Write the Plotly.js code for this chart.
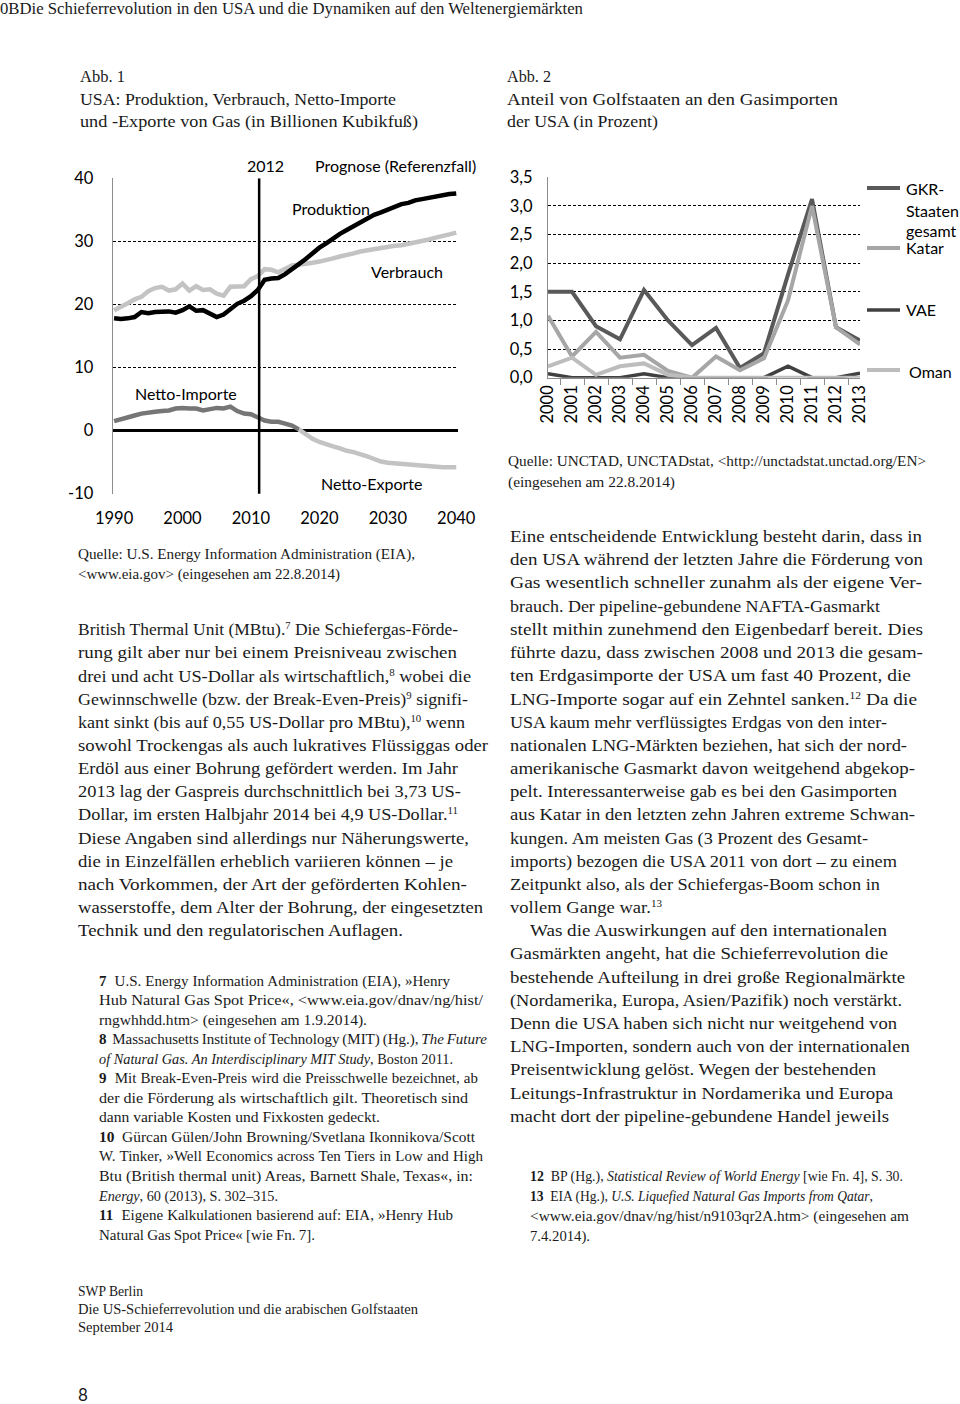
<!DOCTYPE html>
<html><head><meta charset="utf-8">
<script src="https://cdn.plot.ly/plotly-3.0.1.min.js"></script>
<style>
html,body{margin:0;padding:0;background:#fff;}
#page{position:relative;width:960px;height:1404px;overflow:hidden;background:#fff;}
#plot{position:absolute;left:0;top:0;width:960px;height:1404px;}
.ln{position:absolute;white-space:nowrap;font-family:"Liberation Serif",serif;color:#1a1a1a;line-height:1;transform-origin:0 50%;}
.ln sup{font-size:0.6em;vertical-align:0;position:relative;top:-0.6em;line-height:0;}
.ln b{font-weight:bold;}
</style></head><body>
<div id="page"><div id="plot"></div><div id="txt"></div></div>
<script>
// ---------- Abb. 1 data (Billionen Kubikfuß) ----------
const years = [1990,1991,1992,1993,1994,1995,1996,1997,1998,1999,2000,2001,2002,2003,2004,2005,2006,2007,2008,2009,2010,2011,2012,2013,2014,2015,2016,2017,2018,2019,2020,2021,2022,2023,2024,2025,2026,2027,2028,2029,2030,2031,2032,2033,2034,2035,2036,2037,2038,2039,2040];
const produktion = [17.8,17.7,17.8,18.0,18.8,18.6,18.8,18.9,18.9,18.7,19.1,19.7,19.0,19.1,18.6,18.0,18.4,19.2,20.1,20.6,21.3,22.3,23.9,24.1,24.2,24.8,25.7,26.4,27.2,28.2,29.0,29.7,30.5,31.2,31.8,32.4,33.1,33.7,34.2,34.6,35.0,35.4,35.9,36.1,36.5,36.7,36.9,37.1,37.4,37.5,37.6];
const verbrauch = [19.1,19.6,20.2,20.8,21.2,22.1,22.6,22.8,22.2,22.4,23.3,22.2,22.9,22.3,22.4,21.7,21.4,22.8,22.9,22.9,24.0,24.5,25.6,25.5,25.1,25.6,26.2,26.3,26.4,26.6,26.8,27.0,27.3,27.6,27.8,28.1,28.4,28.6,28.8,29.0,29.1,29.3,29.4,29.6,29.8,30.1,30.3,30.6,30.8,31.1,31.4];
const nettoImporte = [1.5,1.75,2.1,2.4,2.7,2.9,3.0,3.1,3.2,3.5,3.6,3.5,3.5,3.2,3.4,3.6,3.5,3.8,3.1,2.7,2.6,2.1,1.6,1.4,1.4,1.1,0.8,0.2,null,null,null,null,null,null,null,null,null,null,null,null,null,null,null,null,null,null,null,null,null,null,null];
const nettoExporte = [null,null,null,null,null,null,null,null,null,null,null,null,null,null,null,null,null,null,null,null,null,null,null,null,null,null,null,0.2,-0.6,-1.3,-1.8,-2.2,-2.5,-2.8,-3.2,-3.4,-3.7,-4.1,-4.5,-4.9,-5.1,-5.2,-5.3,-5.4,-5.5,-5.6,-5.7,-5.7,-5.8,-5.8,-5.8];
const xTicks1 = [1990,2000,2010,2020,2030,2040];
const yTicks1 = [-10,0,10,20,30,40];
const yTickText1 = ['-10','0','10','20','30','40'];
const prognoseStart = 2011.2;   // senkrechte Linie "2012"

// ---------- Abb. 2 data (Prozent) ----------
const jahre = ['2000','2001','2002','2003','2004','2005','2006','2007','2008','2009','2010','2011','2012','2013'];
const gkrGesamt = [1.5,1.5,0.9,0.67,1.53,1.0,0.57,0.87,0.17,0.43,1.8,3.12,0.88,0.65];
const katar = [1.08,0.37,0.8,0.35,0.4,0.12,0.0,0.37,0.13,0.34,1.35,3.0,0.88,0.58];
const vae = [0.07,0,0,0,0.07,0,0,0,0,0,0.2,0,0,0.08];
const oman = [0.2,0.35,0.05,0.2,0.25,0.05,0,0,0,0,0,0,0,0];
const yTicks2 = [0,0.5,1,1.5,2,2.5,3,3.5];

// ---------- geometry helpers ----------
const W = 960, H = 1404;
const fx = p => p / W, fy = p => 1 - p / H;
const chartFont = 'Lato, "Open Sans", sans-serif';
const grid = {gridcolor:'#000', gridwidth:1, griddash:'3px,2px'};

const traces = [
  {x:years, y:verbrauch, mode:'lines', line:{color:'#c3c3c3', width:4.5}, xaxis:'x', yaxis:'y', name:'Verbrauch'},
  {x:years, y:produktion, mode:'lines', line:{color:'#000', width:4.5}, xaxis:'x', yaxis:'y', name:'Produktion'},
  {x:years, y:nettoImporte, mode:'lines', line:{color:'#767676', width:4.5}, xaxis:'x', yaxis:'y', name:'Netto-Importe'},
  {x:years, y:nettoExporte, mode:'lines', line:{color:'#c3c3c3', width:4.5}, xaxis:'x', yaxis:'y', name:'Netto-Exporte'},
  {x:jahre, y:gkrGesamt, mode:'lines', line:{color:'#595959', width:4}, xaxis:'x2', yaxis:'y2', name:'GKR-Staaten gesamt'},
  {x:jahre, y:katar, mode:'lines', line:{color:'#a6a6a6', width:4}, xaxis:'x2', yaxis:'y2', name:'Katar'},
  {x:jahre, y:vae, mode:'lines', line:{color:'#404040', width:3.5}, xaxis:'x2', yaxis:'y2', name:'VAE'},
  {x:jahre, y:oman, mode:'lines', line:{color:'#bdbdbd', width:4}, xaxis:'x2', yaxis:'y2', name:'Oman'}
];

function ann(text, x, y, size, xanchor){
  return {text:text, x:fx(x), y:fy(y), xref:'paper', yref:'paper', showarrow:false,
          xanchor:xanchor||'center', yanchor:'middle', font:{family:chartFont, size:size||16, color:'#000'}};
}
function legLine(y, color, width){
  return {type:'line', xref:'paper', yref:'paper', x0:fx(867), x1:fx(900), y0:fy(y), y1:fy(y), line:{color:color, width:width}};
}

const layout = {
  width:W, height:H, margin:{l:0,r:0,t:0,b:0}, paper_bgcolor:'#fff', plot_bgcolor:'rgba(0,0,0,0)',
  showlegend:false, separators:', ', font:{family:chartFont, size:16, color:'#000'},
  xaxis:{domain:[fx(112.7), fx(458.3)], range:[1989.8, 2040.3], tickvals:xTicks1, showgrid:false, zeroline:false,
         showline:false, ticks:'outside', ticklen:9, tickcolor:'rgba(0,0,0,0)', tickfont:{size:16.5}, anchor:'y'},
  yaxis:Object.assign({domain:[fy(493.7), fy(178.3)], range:[-10,40], tickvals:yTicks1, ticktext:yTickText1, showgrid:true,
         zeroline:true, zerolinecolor:'#000', zerolinewidth:3, showline:true, linecolor:'#8c8c8c', linewidth:1,
         ticks:'outside', ticklen:15, tickcolor:'rgba(0,0,0,0)', tickfont:{size:16.5}, anchor:'x'}, grid),
  xaxis2:{domain:[fx(548), fx(860)], type:'category', anchor:'y2', tickson:'boundaries', ticks:'outside', ticklen:6,
          tickcolor:'#8c8c8c', showline:true, linecolor:'#8c8c8c', linewidth:1, tickangle:-90, showgrid:false,
          tickfont:{size:16.5}},
  yaxis2:Object.assign({domain:[fy(377.7), fy(177.3)], range:[0,3.5], tickvals:yTicks2, tickformat:'.1f', showgrid:true,
          zeroline:true, zerolinecolor:'#8c8c8c', zerolinewidth:1, showline:true, linecolor:'#8c8c8c', linewidth:1,
          ticks:'outside', ticklen:11, tickcolor:'rgba(0,0,0,0)', tickfont:{size:16.5}, anchor:'x2'}, grid),
  shapes:[
    {type:'line', xref:'x', yref:'y', x0:prognoseStart, x1:prognoseStart, y0:-10.2, y1:40, line:{color:'#000', width:2.5}},
    legLine(188, '#595959', 4), legLine(248, '#a6a6a6', 4), legLine(310, '#404040', 3.5), legLine(370, '#bdbdbd', 4)
  ],
  annotations:[
    ann('2012', 265, 165), ann('Prognose (Referenzfall)', 395, 165),
    ann('Produktion', 331, 208), ann('Verbrauch', 407, 271),
    ann('Netto-Importe', 186, 393), ann('Netto-Exporte', 371, 483),
    ann('GKR-', 904, 189, 16, 'left'), ann('Staaten', 904, 210, 16, 'left'), ann('gesamt', 904, 231, 16, 'left'),
    ann('Katar', 904, 248, 16, 'left'), ann('VAE', 904, 310, 16, 'left'), ann('Oman', 907, 371, 16, 'left')
  ]
};

Plotly.newPlot('plot', traces, layout, {staticPlot:true, displayModeBar:false});

// ---------- page text: [left x, centre y, right end x, font size, html, condensed?] ----------
const lines = [
  [0, 9, 583, 16, '0BDie Schieferrevolution in den USA und die Dynamiken auf den Weltenergiemärkten', 1],
  [80, 77, 125, 17.5, 'Abb. 1', 1],
  [80, 100, 396, 17.5, 'USA: Produktion, Verbrauch, Netto-Importe', 1],
  [80, 122, 418, 17.5, 'und -Exporte von Gas (in Billionen Kubikfuß)', 1],
  [507, 77, 551, 17.5, 'Abb. 2', 1],
  [507, 100, 838, 17.5, 'Anteil von Golfstaaten an den Gasimporten', 1],
  [507, 122, 658, 17.5, 'der USA (in Prozent)', 1],
  [78, 554, 415, 14.5, 'Quelle: U.S. Energy Information Administration (EIA),'],
  [78, 574, 340, 14.5, '&lt;www.eia.gov&gt; (eingesehen am 22.8.2014)'],
  [508, 461, 926, 14.5, 'Quelle: UNCTAD, UNCTADstat, &lt;http://unctadstat.unctad.org/EN&gt;'],
  [508, 482, 675, 14.5, '(eingesehen am 22.8.2014)'],
  // left body
  [78, 630, 458, 16.5, 'British Thermal Unit (MBtu).<sup>7</sup> Die Schiefergas-Förde-'],
  [78, 653, 457, 16.5, 'rung gilt aber nur bei einem Preisniveau zwischen'],
  [78, 677, 471, 16.5, 'drei und acht US-Dollar als wirtschaftlich,<sup>8</sup> wobei die'],
  [78, 700, 468, 16.5, 'Gewinnschwelle (bzw. der Break-Even-Preis)<sup>9</sup> signifi-'],
  [78, 723, 465, 16.5, 'kant sinkt (bis auf 0,55 US-Dollar pro MBtu),<sup>10</sup> wenn'],
  [78, 746, 488, 16.5, 'sowohl Trockengas als auch lukratives Flüssiggas oder'],
  [78, 769, 458, 16.5, 'Erdöl aus einer Bohrung gefördert werden. Im Jahr'],
  [78, 792, 461, 16.5, '2013 lag der Gaspreis durchschnittlich bei 3,73 US-'],
  [78, 815, 458, 16.5, 'Dollar, im ersten Halbjahr 2014 bei 4,9 US-Dollar.<sup>11</sup>'],
  [78, 839, 469, 16.5, 'Diese Angaben sind allerdings nur Näherungswerte,'],
  [78, 862, 453, 16.5, 'die in Einzelfällen erheblich variieren können – je'],
  [78, 885, 467, 16.5, 'nach Vorkommen, der Art der geförderten Kohlen-'],
  [78, 908, 483, 16.5, 'wasserstoffe, dem Alter der Bohrung, der eingesetzten'],
  [78, 931, 403, 16.5, 'Technik und den regulatorischen Auflagen.'],
  // left footnotes
  [99, 981, 450, 15, '<b>7</b>&nbsp; U.S. Energy Information Administration (EIA), »Henry'],
  [99, 1000, 483, 15, 'Hub Natural Gas Spot Price«, &lt;www.eia.gov/dnav/ng/hist/'],
  [99, 1020, 367, 15, 'rngwhhdd.htm&gt; (eingesehen am 1.9.2014).'],
  [99, 1039, 487, 15, '<b>8</b>&nbsp; Massachusetts Institute of Technology (MIT) (Hg.), <i>The Future</i>'],
  [99, 1059, 453, 15, '<i>of Natural Gas. An Interdisciplinary MIT Study</i>, Boston 2011.'],
  [99, 1078, 478, 15, '<b>9</b>&nbsp; Mit Break-Even-Preis wird die Preisschwelle bezeichnet, ab'],
  [99, 1098, 468, 15, 'der die Förderung als wirtschaftlich gilt. Theoretisch sind'],
  [99, 1117, 380, 15, 'dann variable Kosten und Fixkosten gedeckt.'],
  [99, 1137, 475, 15, '<b>10</b>&nbsp; Gürcan Gülen/John Browning/Svetlana Ikonnikova/Scott'],
  [99, 1156, 483, 15, 'W. Tinker, »Well Economics across Ten Tiers in Low and High'],
  [99, 1176, 473, 15, 'Btu (British thermal unit) Areas, Barnett Shale, Texas«, in:'],
  [99, 1196, 278, 15, '<i>Energy</i>, 60 (2013), S. 302–315.'],
  [99, 1215, 453, 15, '<b>11</b>&nbsp; Eigene Kalkulationen basierend auf: EIA, »Henry Hub'],
  [99, 1235, 315, 15, 'Natural Gas Spot Price« [wie Fn. 7].'],
  // right body
  [510, 537, 922, 16.5, 'Eine entscheidende Entwicklung besteht darin, dass in'],
  [510, 560, 923, 16.5, 'den USA während der letzten Jahre die Förderung von'],
  [510, 583, 922, 16.5, 'Gas wesentlich schneller zunahm als der eigene Ver-'],
  [510, 607, 880, 16.5, 'brauch. Der pipeline-gebundene NAFTA-Gasmarkt'],
  [510, 630, 923, 16.5, 'stellt mithin zunehmend den Eigenbedarf bereit. Dies'],
  [510, 653, 923, 16.5, 'führte dazu, dass zwischen 2008 und 2013 die gesam-'],
  [510, 676, 911, 16.5, 'ten Erdgasimporte der USA um fast 40 Prozent, die'],
  [510, 700, 917, 16.5, 'LNG-Importe sogar auf ein Zehntel sanken.<sup>12</sup> Da die'],
  [510, 723, 887, 16.5, 'USA kaum mehr verflüssigtes Erdgas von den inter-'],
  [510, 746, 907, 16.5, 'nationalen LNG-Märkten beziehen, hat sich der nord-'],
  [510, 769, 915, 16.5, 'amerikanische Gasmarkt davon weitgehend abgekop-'],
  [510, 792, 897, 16.5, 'pelt. Interessanterweise gab es bei den Gasimporten'],
  [510, 815, 915, 16.5, 'aus Katar in den letzten zehn Jahren extreme Schwan-'],
  [510, 839, 868, 16.5, 'kungen. Am meisten Gas (3 Prozent des Gesamt-'],
  [510, 862, 897, 16.5, 'imports) bezogen die USA 2011 von dort – zu einem'],
  [510, 885, 880, 16.5, 'Zeitpunkt also, als der Schiefergas-Boom schon in'],
  [510, 908, 662, 16.5, 'vollem Gange war.<sup>13</sup>'],
  [530, 931, 887, 16.5, 'Was die Auswirkungen auf den internationalen'],
  [510, 954, 888, 16.5, 'Gasmärkten angeht, hat die Schieferrevolution die'],
  [510, 978, 905, 16.5, 'bestehende Aufteilung in drei große Regionalmärkte'],
  [510, 1001, 902, 16.5, '(Nordamerika, Europa, Asien/Pazifik) noch verstärkt.'],
  [510, 1024, 897, 16.5, 'Denn die USA haben sich nicht nur weitgehend von'],
  [510, 1047, 910, 16.5, 'LNG-Importen, sondern auch von der internationalen'],
  [510, 1070, 876, 16.5, 'Preisentwicklung gelöst. Wegen der bestehenden'],
  [510, 1094, 893, 16.5, 'Leitungs-Infrastruktur in Nordamerika und Europa'],
  [510, 1117, 889, 16.5, 'macht dort der pipeline-gebundene Handel jeweils'],
  // right footnotes
  [530, 1176, 903, 15, '<b>12</b>&nbsp; BP (Hg.), <i>Statistical Review of World Energy</i> [wie Fn. 4], S. 30.'],
  [530, 1196, 873, 15, '<b>13</b>&nbsp; EIA (Hg.), <i>U.S. Liquefied Natural Gas Imports from Qatar</i>,'],
  [530, 1216, 909, 15, '&lt;www.eia.gov/dnav/ng/hist/n9103qr2A.htm&gt; (eingesehen am'],
  [530, 1236, 590, 15, '7.4.2014).'],
  // footer
  [78, 1291, 143, 15, 'SWP Berlin'],
  [78, 1309, 418, 15, 'Die US-Schieferrevolution und die arabischen Golfstaaten'],
  [78, 1327, 173, 15, 'September 2014']
];

const txt = document.getElementById('txt');
lines.forEach(l => {
  const d = document.createElement('div');
  d.className = 'ln';
  d.style.left = l[0] + 'px';
  d.style.top = (l[1] - l[3] * 0.5) + 'px';
  d.style.fontSize = l[3] + 'px';
  d.dataset.w = l[2] - l[0];
  if (l[5]) d.dataset.c = '1';
  d.innerHTML = l[4];
  txt.appendChild(d);
});
const pg = document.createElement('div');
pg.className = 'ln';
pg.style.cssText = 'left:78px;top:1386px;font-family:Lato,sans-serif;font-size:17px;';
pg.textContent = '8';
txt.appendChild(pg);

function fitLines(){
  document.querySelectorAll('.ln').forEach(el => {
    const T = +el.dataset.w; if (!T) return;
    el.style.wordSpacing = ''; el.style.transform = '';
    const w = el.getBoundingClientRect().width;
    const n = (el.textContent.match(/[ \u00a0]/g) || []).length;
    const ws = n ? (T - w) / n : 0;
    if (!el.dataset.c && n && ws > -1.2 && ws < 1.6) el.style.wordSpacing = ws.toFixed(2) + 'px';
    else el.style.transform = 'scaleX(' + (T / w).toFixed(4) + ')';
  });
}
fitLines();
if (document.fonts && document.fonts.ready) document.fonts.ready.then(fitLines);
</script>
</body></html>
